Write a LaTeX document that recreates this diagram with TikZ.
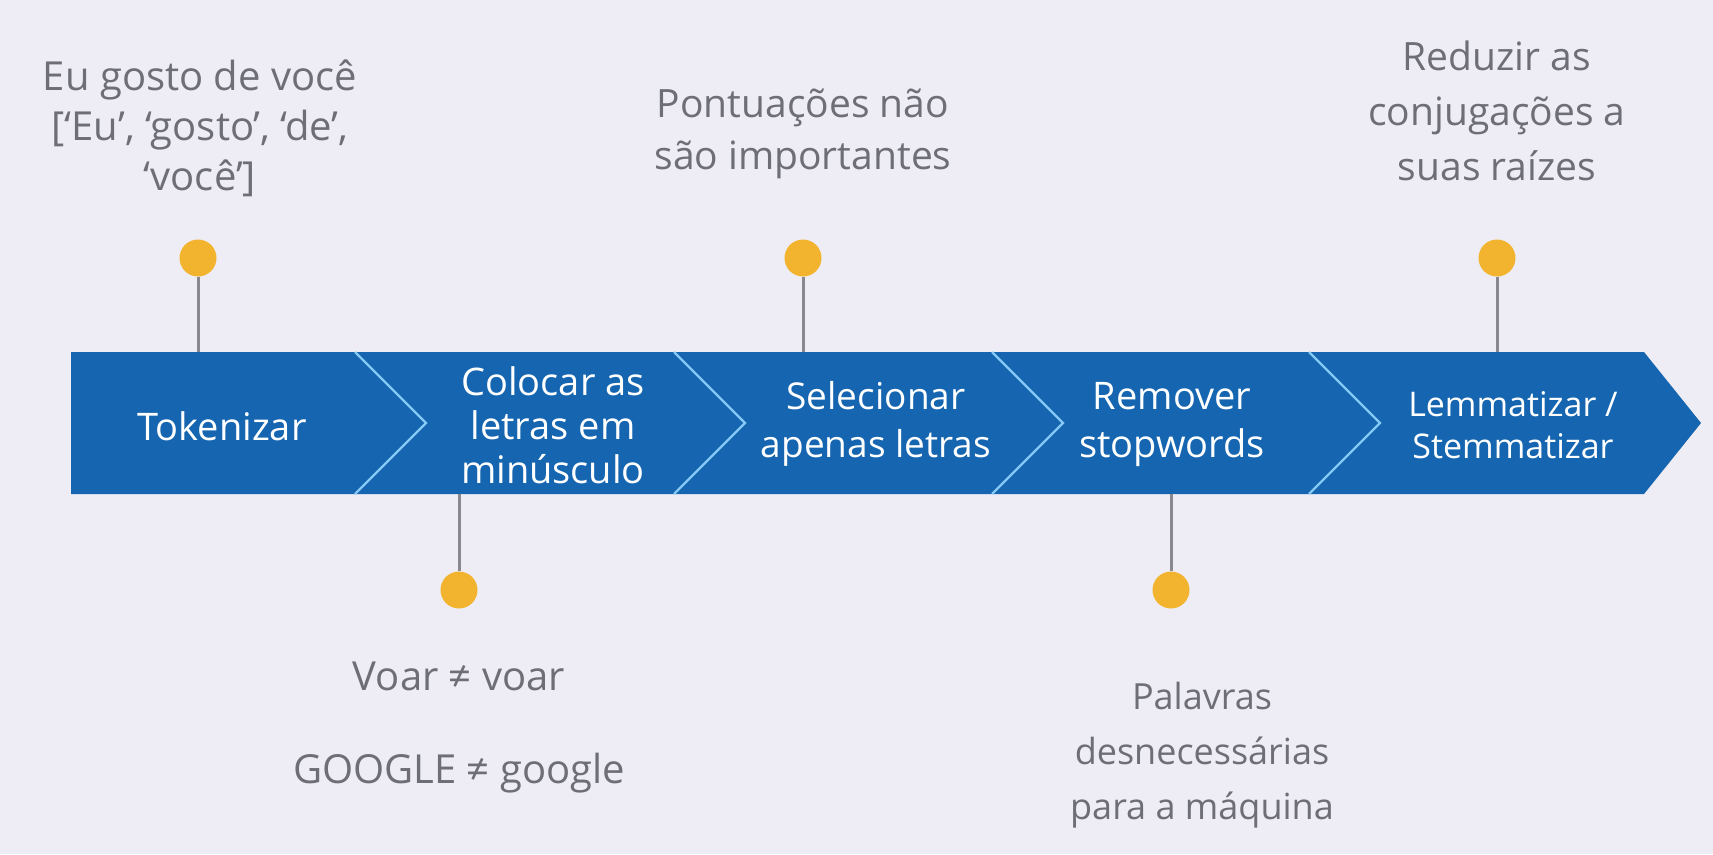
\documentclass[tikz,border=0pt]{standalone}
\usepackage{fontspec}
\setmainfont{Open Sans}
\definecolor{bg}{HTML}{EEEDF5}
\definecolor{bandblue}{HTML}{1565B0}
\definecolor{seplight}{HTML}{86C8F6}
\definecolor{graytxt}{HTML}{6E6E76}
\definecolor{pinline}{HTML}{88888E}
\definecolor{dotyellow}{HTML}{F2B32E}
\begin{document}
\begin{tikzpicture}[x=1pt,y=-1pt,
  note/.style={text=graytxt,align=center,font=\fontsize{38}{52}\selectfont},
  steptxt/.style={text=white,align=center,font=\fontsize{38}{44}\selectfont},
  pindot/.style={circle,fill=dotyellow,minimum size=37pt,inner sep=0pt},
  pinline/.style={draw=pinline,line width=3pt},
  sepline/.style={draw=seplight,line width=2.2pt}]
\fill[bg] (0,0) rectangle (1713,854);
\useasboundingbox (0,0) rectangle (1713,854);
% band
\fill[bandblue] (71,352) -- (1644,352) -- (1701,423) -- (1644,494) -- (71,494) -- cycle;
\foreach \sx in {355,674,992,1309}{
  \draw[sepline] (\sx,352) -- (\sx+71,423) -- (\sx,494);
}
% band texts
\node[steptxt] (s1) at (222,426) {Tokenizar};
\node[steptxt] (s2) at (553,425) {Colocar as\\letras em\\minúsculo};
\node[steptxt,font=\fontsize{37}{48}\selectfont] (s3) at (876,424) {Selecionar\\apenas letras};
\node[steptxt,font=\fontsize{38}{48}\selectfont] (s4) at (1172,424) {Remover\\stopwords};
\node[steptxt,font=\fontsize{34}{42}\selectfont] (s5) at (1513,425) {Lemmatizar /\\Stemmatizar};
% anchor points on band edges
\coordinate (b1) at (198,352);
\coordinate (b2) at (459,494);
\coordinate (b3) at (803,352);
\coordinate (b4) at (1171,494);
\coordinate (b5) at (1497,352);
% pins
\node[pindot] (d1) at (198,258) {};
\node[pindot] (d2) at (459,590) {};
\node[pindot] (d3) at (803,258) {};
\node[pindot] (d4) at (1171,590) {};
\node[pindot] (d5) at (1497,258) {};
\draw[pinline] (d1) -- (b1);
\draw[pinline] (d2) -- (b2);
\draw[pinline] (d3) -- (b3);
\draw[pinline] (d4) -- (b4);
\draw[pinline] (d5) -- (b5);
% notes
\node[note,font=\fontsize{40}{50}\selectfont] (n1) at (200,128) {Eu gosto de você\\{[}‘Eu’, ‘gosto’, ‘de’,\\‘você’{]}};
\node[note,font=\fontsize{39}{52}\selectfont] (n3) at (803,134) {Pontuações não\\são importantes};
\node[note,font=\fontsize{39}{55}\selectfont] (n5) at (1497,111) {Reduzir as\\conjugações a\\suas raízes};
\node[note,font=\fontsize{40}{93}\selectfont] (n2) at (459,728) {Voar ≠ voar\\GOOGLE ≠ google};
\node[note,font=\fontsize{36}{55}\selectfont] (n4) at (1202,755) {Palavras\\desnecessárias\\para a máquina};
\end{tikzpicture}
\end{document}
